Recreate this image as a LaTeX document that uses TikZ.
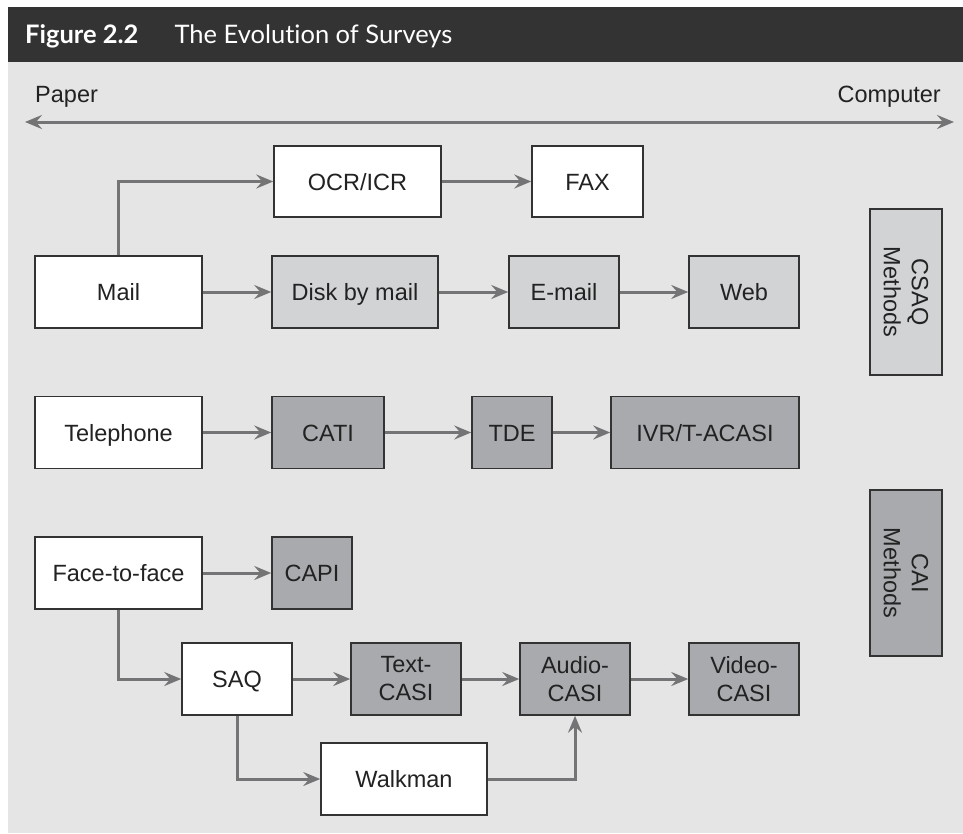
\documentclass[tikz,border=0pt]{standalone}
\usepackage{fontspec}
\setmainfont{Liberation Sans}
\newfontfamily\titlefont[Ligatures=NoCommon]{Lato}
\usetikzlibrary{arrows.meta}
\definecolor{barcol}{HTML}{333333}
\definecolor{panel}{HTML}{E5E5E5}
\definecolor{lightbox}{HTML}{D2D3D5}
\definecolor{darkbox}{HTML}{A9AAAD}
\definecolor{linecol}{HTML}{747476}
\definecolor{edgecol}{HTML}{333333}
\definecolor{inkcol}{HTML}{222222}
\tikzset{
  box/.style={draw=edgecol, line width=1.5pt, minimum height=72pt, inner sep=0pt,
    text=inkcol, font=\fontsize{23.5}{28}\selectfont, align=center},
  oneline/.style={text height=17pt, text depth=0pt},
  whitebox/.style={box, fill=white},
  lightgray/.style={box, fill=lightbox},
  darkgray/.style={box, fill=darkbox},
  flow/.style={draw=linecol, line width=3pt, -{Stealth[length=17pt, width=14pt, inset=6pt]}},
  label/.style={text=inkcol, font=\fontsize{23.5}{28}\selectfont, inner sep=0pt}
}
\begin{document}
\begin{tikzpicture}[x=1pt, y=-1pt]
  \useasboundingbox (0,0) rectangle (963,833);
  % page, panel and title bar
  \fill[white] (0,0) rectangle (963,833);
  \fill[panel] (8,62) rectangle (963,833);
  \fill[barcol] (8,7) rectangle (963,62);
  \node[anchor=base west, inner sep=0pt, text=white,
        font=\titlefont\fontsize{25.5}{30}\selectfont] (title) at (25,43)
    {\textbf{Figure 2.2}\hspace{36pt}The Evolution of Surveys};

  % paper-to-computer axis
  \node[label, anchor=base west] (paper) at (35,102) {Paper};
  \node[label, anchor=base east] (computer) at (941,102) {Computer};
  \coordinate (axisL) at (25,122);
  \coordinate (axisR) at (954,122);
  \draw[draw=linecol, line width=3pt,
        {Stealth[length=17pt, width=14pt, inset=6pt]}-{Stealth[length=17pt, width=14pt, inset=6pt]}]
    (axisL) -- (axisR);

  % mail row and its offshoot
  \node[whitebox, oneline, minimum width=167pt, minimum height=71pt] (ocr) at (357.5,181.5) {OCR/ICR};
  \node[whitebox, oneline, minimum width=111pt, minimum height=71pt] (fax) at (587.5,181.5) {FAX};
  \node[whitebox, oneline, minimum width=167pt] (mail) at (118.5,292) {Mail};
  \node[lightgray, oneline, minimum width=166pt] (disk) at (355,292) {Disk by mail};
  \node[lightgray, oneline, minimum width=110pt] (email) at (564,292) {E-mail};
  \node[lightgray, oneline, minimum width=110pt] (web) at (744,292) {Web};

  % telephone row
  \node[whitebox, oneline, minimum width=167pt] (tel) at (118.5,432.5) {Telephone};
  \node[darkgray, oneline, minimum width=112pt] (cati) at (328,432.5) {CATI};
  \node[darkgray, oneline, minimum width=80pt] (tde) at (512,432.5) {TDE};
  \node[darkgray, oneline, minimum width=188pt] (ivr) at (705,432.5) {IVR/T-ACASI};

  % face-to-face rows
  \node[whitebox, oneline, minimum width=167pt] (f2f) at (118.5,573) {Face-to-face};
  \node[darkgray, oneline, minimum width=80pt] (capi) at (312,573) {CAPI};
  \node[whitebox, oneline, minimum width=110pt] (saq) at (237,679) {SAQ};
  \node[darkgray, minimum width=110pt] (tcasi) at (406,679) {Text-\\CASI};
  \node[darkgray, minimum width=110pt] (acasi) at (575,679) {Audio-\\CASI};
  \node[darkgray, minimum width=110pt] (vcasi) at (744,679) {Video-\\CASI};
  \node[whitebox, oneline, minimum width=166pt] (walk) at (404,779) {Walkman};

  % method groups
  \node[lightgray, minimum width=166pt, minimum height=72pt, rotate=-90] (csaq) at (906,292)
    {CSAQ\\Methods};
  \node[darkgray, minimum width=166pt, minimum height=72pt, rotate=-90] (cai) at (906,573)
    {CAI\\Methods};

  % connectors
  \draw[flow] (mail.north) |- (ocr.west);
  \draw[flow] (ocr) -- (fax);
  \draw[flow] (mail) -- (disk);
  \draw[flow] (disk) -- (email);
  \draw[flow] (email) -- (web);
  \draw[flow] (tel) -- (cati);
  \draw[flow] (cati) -- (tde);
  \draw[flow] (tde) -- (ivr);
  \draw[flow] (f2f) -- (capi);
  \draw[flow] (f2f.south) |- (saq.west);
  \draw[flow] (saq) -- (tcasi);
  \draw[flow] (tcasi) -- (acasi);
  \draw[flow] (acasi) -- (vcasi);
  \draw[flow] (saq.south) |- (walk.west);
  \draw[flow] (walk.east) -| (acasi.south);
\end{tikzpicture}
\end{document}
